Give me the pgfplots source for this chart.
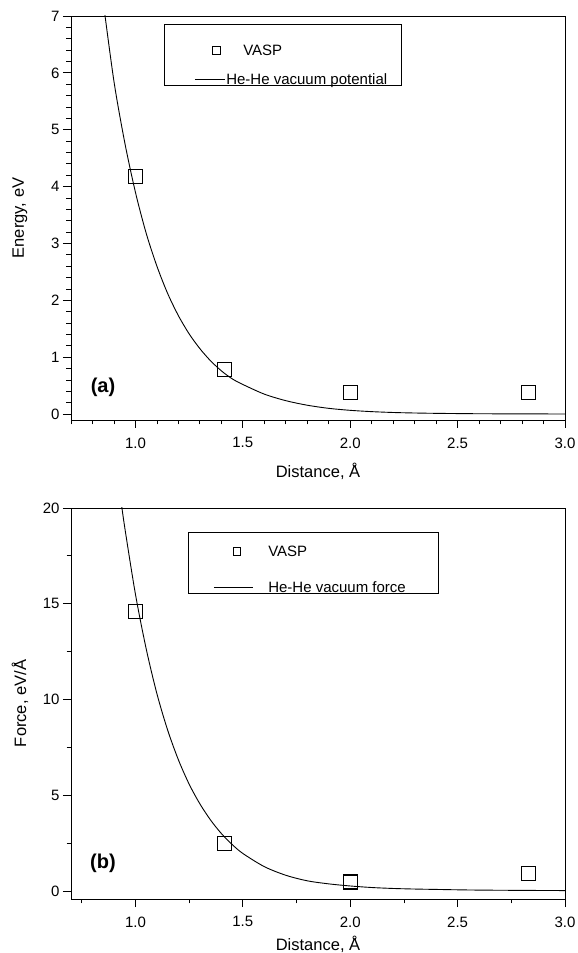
\documentclass[border=0pt]{standalone}
\usepackage{fontspec}
\setmainfont{Liberation Sans}
\usepackage{pgfplots}
\pgfplotsset{compat=1.18}

\pgfplotsset{
  panel/.style={
    scale only axis, width=494pt,
    xmin=0.7, xmax=3.0,
    axis line style={line width=0.9pt},
    every tick/.style={black, line width=0.8pt},
    tick align=outside, tick pos=left,
    major tick length=8pt, minor tick length=4.5pt,
    xtick={1.0,1.5,2.0,2.5,3.0},
    xticklabels={1.0,1.5,2.0,2.5,3.0},
    /pgf/number format/assume math mode=true,
    tick label style={font=\fontsize{15}{18}\selectfont},
    xticklabel style={yshift=-6pt},
    ylabel style={at={(axis description cs:-0.1032,0.5)}, anchor=center, font=\fontsize{16.5}{19}\selectfont},
    legend cell align=left,
    legend style={draw=black, line width=0.8pt, fill=white,
      inner ysep=0pt, font=\fontsize{15}{18}\selectfont,
      nodes={inner sep=0pt, text depth=1pt},
      cells={anchor=base west}},
  },
}

\begin{document}
\begin{tikzpicture}
\useasboundingbox (0,0) rectangle (578pt,953pt);

% ---------------- top panel (a) ----------------
\begin{axis}[panel,
  at={(71pt,533pt)}, anchor=south west,
  height=404pt,
  ymin=-0.105, ymax=7,
  ytick={0,1,2,3,4,5,6,7},
  minor xtick={0.7,0.8,0.9,1.1,1.2,1.3,1.4,1.6,1.7,1.8,1.9,2.1,2.2,2.3,2.4,2.6,2.7,2.8,2.9},
  minor ytick={0.2,0.4,0.6,0.8,1.2,1.4,1.6,1.8,2.2,2.4,2.6,2.8,3.2,3.4,3.6,3.8,4.2,4.4,4.6,4.8,5.2,5.4,5.6,5.8,6.2,6.4,6.6,6.8},
  xlabel={Distance, Å},
  xlabel style={at={(axis description cs:0.5,-0.1262)}, anchor=center, font=\fontsize{16.5}{19}\selectfont},
  ylabel={Energy, eV},
  legend style={at={(axis description cs:0.1883,0.980)}, anchor=north west,
    inner xsep=14pt, row sep=17pt, column sep=1pt},
]
\addplot[only marks, mark=square, mark size=7pt, mark options={line width=1.1pt, black},
  legend image code/.code={\path (-16pt,0pt); \draw[line width=0.9pt] (17.7pt,1.5pt) rectangle (25.3pt,9.1pt);}]
  coordinates {(1.0,4.18) (1.414,0.78) (2.0,0.376) (2.828,0.376)};
\addlegendentry{\rule{0pt}{31.4pt}\hspace{17pt}VASP}
\addplot[black, line width=0.9pt, smooth,
  legend image code/.code={\path (-16pt,0pt); \draw[line width=0.9pt] (0pt,5.3pt) -- (30pt,5.3pt);}]
  coordinates {(0.85,7.25) (0.9,5.85) (0.95,4.78) (1.0,3.9) (1.05,3.18) (1.1,2.6)
   (1.15,2.12) (1.2,1.73) (1.25,1.41) (1.3,1.15) (1.35,0.935) (1.4,0.76)
   (1.45,0.62) (1.5,0.52) (1.6,0.35) (1.7,0.235) (1.8,0.155) (1.9,0.1)
   (2.0,0.065) (2.1,0.042) (2.2,0.027) (2.3,0.018) (2.4,0.012) (2.5,0.008)
   (2.6,0.005) (2.8,0.002) (3.0,0.001)};
\addlegendentry{He-He vacuum potential}
\node[font=\fontsize{20}{23}\selectfont\bfseries] at (axis cs:0.849,0.47) {(a)};
\end{axis}

% ---------------- bottom panel (b) ----------------
\begin{axis}[panel,
  at={(71pt,54pt)}, anchor=south west,
  height=391pt,
  ymin=-0.42, ymax=20,
  ytick={0,5,10,15,20},
  minor xtick={0.75,1.25,1.75,2.25,2.75},
  minor ytick={2.5,7.5,12.5,17.5},
  xlabel={Distance, Å},
  xlabel style={at={(axis description cs:0.5,-0.1150)}, anchor=center, font=\fontsize{16.5}{19}\selectfont},
  ylabel={Force, eV/Å},
  legend style={at={(axis description cs:0.2368,0.9386)}, anchor=north west,
    inner xsep=25pt, row sep=24pt, column sep=15pt},
]
\addplot[only marks, mark=square, mark size=7pt, mark options={line width=1.1pt, black},
  legend image code/.code={\draw[line width=0.9pt] (19.2pt,1.5pt) rectangle (26.8pt,9.1pt);}]
  coordinates {(1.0,14.61) (1.414,2.5) (2.0,0.47) (2.828,0.89)};
\addlegendentry{\rule{0pt}{24.4pt}VASP}
\addplot[black, line width=0.9pt, smooth,
  legend image code/.code={\draw[line width=0.9pt] (0pt,5.3pt) -- (39pt,5.3pt);}]
  coordinates {(0.93,20.6) (0.95,19.0) (1.0,15.5) (1.05,12.65) (1.1,10.3)
   (1.15,8.4) (1.2,6.85) (1.25,5.58) (1.3,4.55) (1.35,3.7) (1.4,3.0)
   (1.45,2.43) (1.5,1.96) (1.6,1.27) (1.7,0.82) (1.8,0.53) (1.9,0.37)
   (2.0,0.26) (2.1,0.18) (2.2,0.13) (2.3,0.1) (2.4,0.08) (2.5,0.06)
   (2.6,0.045) (2.8,0.03) (3.0,0.02)};
\addlegendentry{He-He vacuum force\rule{8pt}{0pt}}
\node[font=\fontsize{20}{23}\selectfont\bfseries] at (axis cs:0.849,1.46) {(b)};
\end{axis}
\end{tikzpicture}
\end{document}
